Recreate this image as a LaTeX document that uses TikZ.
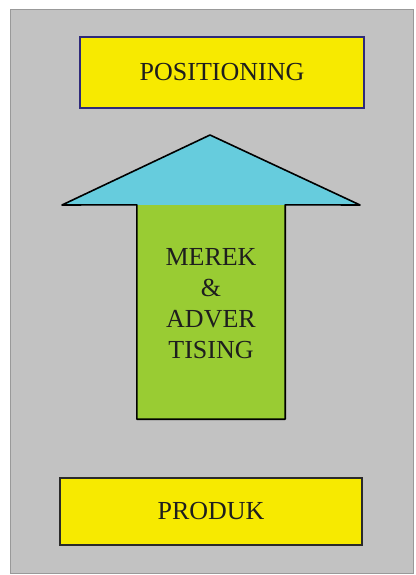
\documentclass[tikz,border=0pt]{standalone}
\usepackage{fontspec}
\setmainfont{Liberation Serif}
\usepackage{tikz}
\usepackage{xcolor}
\usetikzlibrary{positioning}
\definecolor{PanelGray}{HTML}{C2C2C2}
\definecolor{LabelYellow}{HTML}{F7EA00}
\definecolor{HeadCyan}{HTML}{66CCDD}
\definecolor{ShaftGreen}{HTML}{99CC33}
\definecolor{EdgeNavy}{HTML}{2E2A7A}
\definecolor{EdgeDark}{HTML}{2A2A2A}
\definecolor{InkDark}{HTML}{1E1E1E}
\tikzset{
    labelbox/.style={
        draw=#1,
        line width=1.6pt,
        fill=LabelYellow,
        text=InkDark,
        font=\fontsize{26}{31}\selectfont,
        align=center,
        inner sep=0pt
    },
    labelbox/.default=EdgeDark,
    shaft/.style={
        fill=ShaftGreen,
        minimum width=148pt,
        minimum height=214pt,
        inner sep=0pt
    },
    arrowedge/.style={
        draw=black,
        line width=1.6pt,
        line join=round
    }
}

\begin{document}
\begin{tikzpicture}[x=1pt, y=-1pt]
        % Panel
        \useasboundingbox (0,0) rectangle (415,575);
        \fill[PanelGray, draw=gray!80] (10,9) rectangle (413,573);

        % Top label
        \node[labelbox=EdgeNavy, minimum width=284pt, minimum height=71pt] (positioning) at (222,72.5) {POSITIONING};

        % Arrow head and shaft
        \fill[HeadCyan] (62,205) -- (210,135) -- (360,205) -- cycle;
        \node[shaft] (merek) at (211,312) {};
        \draw[arrowedge] (merek.south west) -- (merek.north west) -- (62,205) -- (210,135)
            -- (360,205) -- (merek.north east) -- (merek.south east) -- cycle;
        \node[text=InkDark, font=\fontsize{26}{31}\selectfont, align=center] (merektext) at (211,304) {MEREK\\\&\\ADVER\\TISING};

        % Bottom label
        \node[labelbox, minimum width=302pt, minimum height=67pt] (produk) at (211,511.5) {PRODUK};
    \end{tikzpicture}
\end{document}
